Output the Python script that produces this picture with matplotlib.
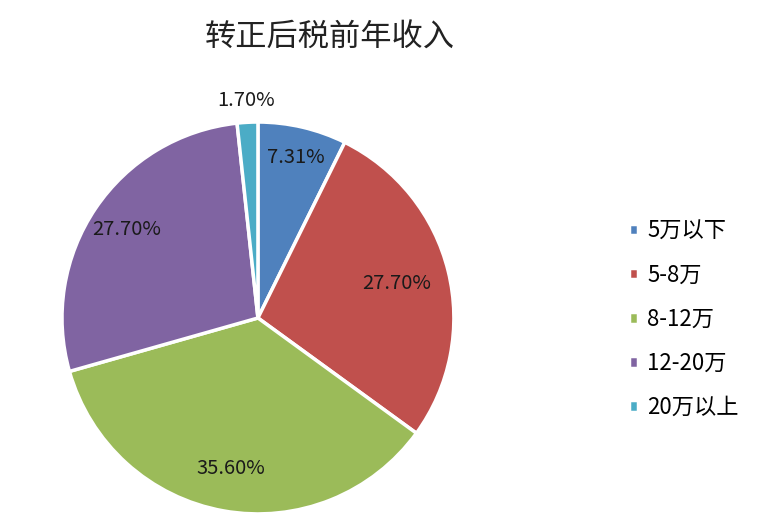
import numpy as np
import matplotlib.pyplot as plt

plt.rcParams['font.family'] = ['Noto Sans CJK SC', 'DejaVu Sans']

# data
categories = ['5万以下', '5-8万', '8-12万', '12-20万', '20万以上']
shares = [7.31, 27.70, 35.60, 27.70, 1.70]
colors = ['#4F81BD', '#C0504D', '#9BBB59', '#8064A2', '#4BACC6']
label_radius = [0.84, 0.73, 0.78, 0.81, 1.11]

fig = plt.figure(figsize=(7.76, 5.32), dpi=100)
ax = fig.add_axes([0.0799, 0.0338, 0.505, 0.737])

wedges, _ = ax.pie(shares, colors=colors, startangle=90, counterclock=False,
                   radius=1.0, wedgeprops=dict(edgecolor='white', linewidth=2.5))
ax.set_xlim(-1, 1)
ax.set_ylim(-1, 1)
ax.set_aspect('equal')

# percentage labels
for w, v, r in zip(wedges, shares, label_radius):
    ang = np.deg2rad((w.theta1 + w.theta2) / 2)
    ax.text(r * np.cos(ang), r * np.sin(ang), f'{v:.2f}%',
            ha='center', va='center', fontsize=14.5, color='#1a1a1a')

fig.text(0.425, 0.93, '转正后税前年收入', ha='center', va='center',
         fontsize=22.5, color='#222222')

fig.legend(wedges, categories, loc='center left', bbox_to_anchor=(0.785, 0.40),
           frameon=False, fontsize=16, handlelength=0.42, handleheight=0.42,
           handletextpad=0.4, labelspacing=0.95)

fig.savefig('out.png', dpi=100)
